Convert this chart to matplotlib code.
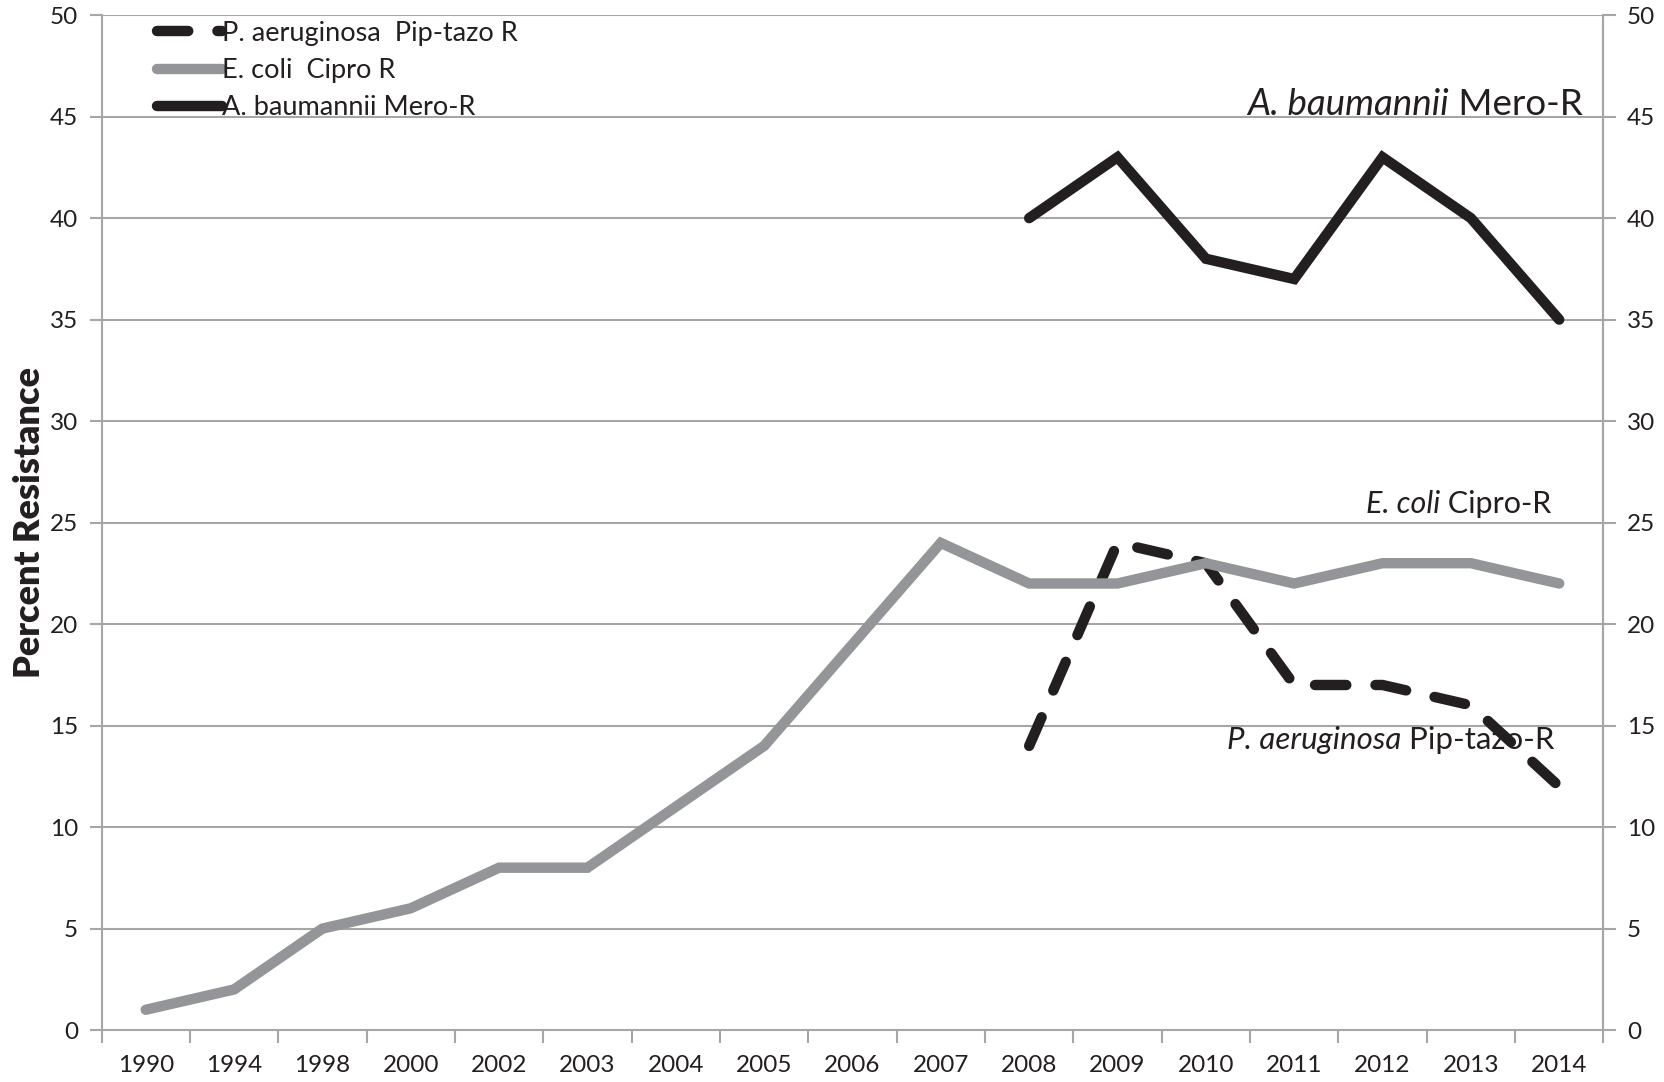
import numpy as np
import matplotlib.pyplot as plt

plt.rcParams['font.family'] = ['Lato', 'DejaVu Sans']

years = ['1990', '1994', '1998', '2000', '2002', '2003', '2004', '2005', '2006',
         '2007', '2008', '2009', '2010', '2011', '2012', '2013', '2014']
ecoli = [1, 2, 5, 6, 8, 8, 11, 14, 19, 24, 22, 22, 23, 22, 23, 23, 22]
abau = [np.nan] * 10 + [40, 43, 38, 37, 43, 40, 35]
paer = [np.nan] * 10 + [14, 24, 23, 17, 17, 16, 12]
yticks = [0, 5, 10, 15, 20, 25, 30, 35, 40, 45, 50]

black = '#231f20'
grey = '#939598'
grid = '#a6a6a6'

fig = plt.figure(figsize=(16.65, 10.82), dpi=100)
ax = fig.add_axes([0.061, 0.048, 0.902, 0.938])

x = np.arange(len(years))
ax.plot(x, paer, color=black, lw=7.5, linestyle=(0, (3, 2.8)), dash_capstyle='round',
        solid_capstyle='round', label='P. aeruginosa  Pip-tazo R')
ax.plot(x, ecoli, color=grey, lw=7.5, solid_capstyle='round', solid_joinstyle='miter',
        label='E. coli  Cipro R')
ax.plot(x, abau, color=black, lw=7.5, solid_capstyle='round', solid_joinstyle='miter',
        label='A. baumannii Mero-R')

ax.set_xlim(-0.5, len(years) - 0.5)
ax.set_ylim(0, 50)
ax.set_yticks(yticks)
for yv in yticks[1:]:
    ax.axhline(yv, color=grid, lw=1.5, zorder=0)

ax.set_xticks(x)
ax.set_xticklabels(years)
ax.set_xticks(np.arange(-0.5, len(years)), minor=True)
ax.tick_params(axis='x', which='major', length=0, pad=18, labelsize=17.5, colors=black)
ax.tick_params(axis='x', which='minor', length=9, width=1.5, color=grid, direction='out')
ax.tick_params(axis='y', length=9, width=1.5, color=grid, direction='out', pad=8,
               labelsize=17.5, labelcolor=black)

ax.spines['top'].set_visible(False)
for s in ['left', 'right', 'bottom']:
    ax.spines[s].set_color(grid)
    ax.spines[s].set_linewidth(1.5)

ax2 = ax.twinx()
ax2.set_ylim(0, 50)
ax2.set_yticks(yticks)
ax2.tick_params(axis='y', length=9, width=1.5, color=grid, direction='out', pad=8,
                labelsize=17.5, labelcolor=black)
for s in ['top', 'left', 'bottom']:
    ax2.spines[s].set_visible(False)
ax2.spines['right'].set_color(grid)
ax2.spines['right'].set_linewidth(1.5)

ax.set_ylabel('Percent Resistance', fontsize=26, fontweight='heavy', labelpad=3,
              color=black)

leg = ax.legend(loc='upper left', bbox_to_anchor=(0.03, 1.005), frameon=False,
                fontsize=19.5, handlelength=2.4, handletextpad=0.0, labelspacing=0.45,
                borderaxespad=0)
for t in leg.get_texts():
    t.set_color(black)

# right-aligned labels: italic species name followed by upright drug name
labels = [
    (16.27, 45.6, 'A. baumannii', ' Mero-R', 26.5),
    (15.91, 25.9, 'E. coli', ' Cipro-R', 22),
    (15.95, 14.3, 'P. aeruginosa', ' Pip-tazo-R', 22.5),
]
fig.canvas.draw()
renderer = fig.canvas.get_renderer()
for lx, ly, sp, drug, fs in labels:
    t = ax.text(lx, ly, drug, fontsize=fs, ha='right', va='center', color=black)
    bb = t.get_window_extent(renderer)
    xl, _ = ax.transData.inverted().transform((bb.x0, 0))
    ax.text(xl, ly, sp, fontsize=fs, ha='right', va='center', color=black,
            style='italic')

fig.savefig('out.png', dpi=100)
